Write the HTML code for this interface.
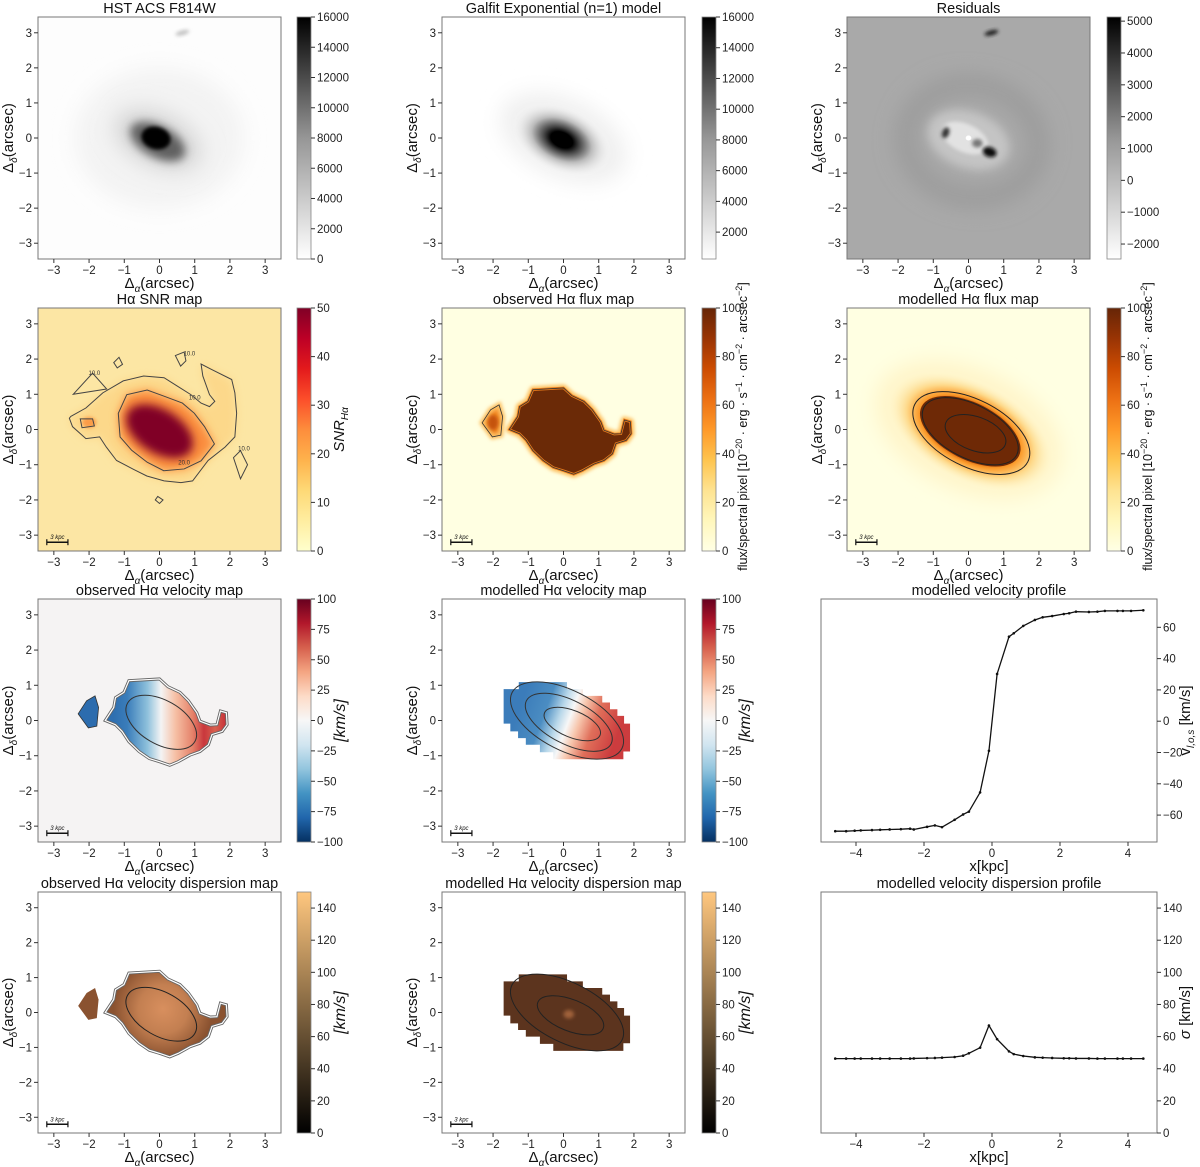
<!DOCTYPE html>
<html><head><meta charset="utf-8">
<style>
html,body{margin:0;padding:0;background:#fff;}
svg{display:block;font-family:"Liberation Sans","DejaVu Sans",sans-serif;}
</style></head>
<body>
<svg id="fig" width="1200" height="1167" viewBox="0 0 1200 1167" xmlns="http://www.w3.org/2000/svg">
<defs>
<filter id="blur2" x="-50%" y="-50%" width="200%" height="200%"><feGaussianBlur stdDeviation="0.05"/></filter>
<filter id="blur5" x="-50%" y="-50%" width="200%" height="200%"><feGaussianBlur stdDeviation="0.13"/></filter>
<filter id="blur10" x="-50%" y="-50%" width="200%" height="200%"><feGaussianBlur stdDeviation="0.3"/></filter>
<linearGradient id="cm-greys" x1="0" y1="1" x2="0" y2="0"><stop offset="0" stop-color="#ffffff"/><stop offset="0.5" stop-color="#969696"/><stop offset="1" stop-color="#000000"/></linearGradient>
<linearGradient id="cm-ylorrd" x1="0" y1="1" x2="0" y2="0"><stop offset="0" stop-color="#ffffcc"/><stop offset="0.125" stop-color="#ffeda0"/><stop offset="0.25" stop-color="#fed976"/><stop offset="0.375" stop-color="#feb24c"/><stop offset="0.5" stop-color="#fd8d3c"/><stop offset="0.625" stop-color="#fc4e2a"/><stop offset="0.75" stop-color="#e31a1c"/><stop offset="0.875" stop-color="#bd0026"/><stop offset="1" stop-color="#800026"/></linearGradient>
<linearGradient id="cm-ylorbr" x1="0" y1="1" x2="0" y2="0"><stop offset="0" stop-color="#ffffe5"/><stop offset="0.125" stop-color="#fff7bc"/><stop offset="0.25" stop-color="#fee391"/><stop offset="0.375" stop-color="#fec44f"/><stop offset="0.5" stop-color="#fe9929"/><stop offset="0.625" stop-color="#ec7014"/><stop offset="0.75" stop-color="#cc4c02"/><stop offset="0.875" stop-color="#993404"/><stop offset="1" stop-color="#662506"/></linearGradient>
<linearGradient id="cm-rdbu" x1="0" y1="1" x2="0" y2="0"><stop offset="0" stop-color="#053061"/><stop offset="0.1" stop-color="#2166ac"/><stop offset="0.2" stop-color="#4393c3"/><stop offset="0.3" stop-color="#92c5de"/><stop offset="0.4" stop-color="#d1e5f0"/><stop offset="0.5" stop-color="#f7f7f7"/><stop offset="0.6" stop-color="#fddbc7"/><stop offset="0.7" stop-color="#f4a582"/><stop offset="0.8" stop-color="#d6604d"/><stop offset="0.9" stop-color="#b2182b"/><stop offset="1" stop-color="#67001f"/></linearGradient>
<linearGradient id="cm-copper" x1="0" y1="1" x2="0" y2="0"><stop offset="0" stop-color="#000000"/><stop offset="1" stop-color="#ffc77f"/></linearGradient>
<linearGradient id="vel-obs" gradientUnits="userSpaceOnUse" x1="-1.3" y1="0" x2="1.9" y2="0"><stop offset="0" stop-color="#2f6fb0"/><stop offset="0.12" stop-color="#3a7dba"/><stop offset="0.3" stop-color="#8fc1dc"/><stop offset="0.42" stop-color="#f4f4f4"/><stop offset="0.55" stop-color="#f6bfa4"/><stop offset="0.7" stop-color="#e5826a"/><stop offset="0.8" stop-color="#c9373c"/><stop offset="0.9" stop-color="#d8604f"/><stop offset="1" stop-color="#c63038"/></linearGradient>
<linearGradient id="vel-mod" gradientUnits="userSpaceOnUse" x1="-1.2" y1="0.5" x2="1.5" y2="-0.5"><stop offset="0" stop-color="#3b7cba"/><stop offset="0.25" stop-color="#4b8dc2"/><stop offset="0.4" stop-color="#b9d8ea"/><stop offset="0.5" stop-color="#f7f7f7"/><stop offset="0.6" stop-color="#f7c6ad"/><stop offset="0.75" stop-color="#e06f5a"/><stop offset="1" stop-color="#cc3c3e"/></linearGradient>
<radialGradient id="disp-obs" gradientUnits="userSpaceOnUse" cx="0.1" cy="0.1" r="1.4"><stop offset="0" stop-color="#d88f5e"/><stop offset="0.5" stop-color="#c37f51"/><stop offset="1" stop-color="#8a5230"/></radialGradient>
<radialGradient id="flux-mod" gradientUnits="objectBoundingBox" cx="0.5" cy="0.5" r="0.5"><stop offset="0" stop-color="#6e2906"/><stop offset="0.42" stop-color="#6e2906"/><stop offset="0.5" stop-color="#c5530a"/><stop offset="0.6" stop-color="#fb9a2a"/><stop offset="0.75" stop-color="#fed98a"/><stop offset="1" stop-color="#ffffe0" stop-opacity="0"/></radialGradient>
<radialGradient id="gal-core" gradientUnits="objectBoundingBox" cx="0.5" cy="0.5" r="0.5"><stop offset="0" stop-color="#000"/><stop offset="0.22" stop-color="#000"/><stop offset="0.35" stop-color="#444"/><stop offset="0.6" stop-color="#bbb"/><stop offset="1" stop-color="#fff" stop-opacity="0"/></radialGradient>
</defs>
</svg>
<script>
// ---------- profile data ----------
const velX = [-4.61,-4.29,-4.04,-3.86,-3.53,-3.29,-3.01,-2.68,-2.41,-2.30,-1.91,-1.68,-1.47,-1.10,-0.85,-0.68,-0.35,-0.09,0.15,0.50,0.64,0.92,1.26,1.49,1.77,2.11,2.27,2.47,2.85,3.10,3.32,3.69,3.85,4.09,4.45];
const velV = [-70.3,-70.3,-70.0,-69.8,-69.6,-69.4,-69.2,-69.0,-68.7,-69.2,-67.5,-66.6,-67.7,-63.0,-59.6,-57.8,-45.5,-18.9,30.2,54.0,56.2,60.9,64.7,66.4,67.2,68.5,69.0,70.0,69.8,70.0,70.5,70.5,70.5,70.5,70.9];
const dispX = [-4.61,-4.29,-4.04,-3.86,-3.53,-3.29,-3.01,-2.68,-2.41,-2.30,-1.91,-1.68,-1.47,-1.10,-0.85,-0.68,-0.35,-0.09,0.15,0.50,0.64,0.92,1.26,1.49,1.77,2.11,2.27,2.47,2.85,3.10,3.32,3.69,3.85,4.09,4.45];
const dispV = [46.3,46.3,46.3,46.3,46.3,46.3,46.3,46.3,46.3,46.4,46.6,46.7,46.9,47.3,48.1,49.6,53.1,66.9,58.4,50.8,49.1,47.9,47.1,46.9,46.7,46.5,46.5,46.4,46.4,46.3,46.3,46.3,46.3,46.3,46.3];
const velTicksY = [-60,-40,-20,0,20,40,60];
const dispTicksY = [0,20,40,60,80,100,120,140];
const profTicksX = [-4,-2,0,2,4];
const imgTicks = [-3,-2,-1,0,1,2,3];

const NS = "http://www.w3.org/2000/svg";
const svg = document.getElementById('fig');
function mk(tag, attrs, parent){const e=document.createElementNS(NS,tag);for(const k in attrs)e.setAttribute(k,attrs[k]);(parent||svg).appendChild(e);return e;}
function txt(s, attrs, parent){const e=mk('text',attrs,parent);e.textContent=s;return e;}
function rich(parts, attrs, parent){const e=mk('text',attrs,parent);parts.forEach(p=>{const t=mk('tspan',p[1]||{},e);t.textContent=p[0];});return e;}

const cols=[{x0:38,x1:281,cb:297},{x0:442,x1:685,cb:702},{x0:847,x1:1090,cb:1107}];
const rows=[{y0:17,y1:259},{y0:308,y1:551},{y0:599,y1:842},{y0:892,y1:1133}];
const R=3.45;
let clipN=0;

function imagePanel(ci,ri,name,title,bg){
  const c=cols[ci],r=rows[ri];
  const g=mk('g',{});
  
  
  const id='clip'+(clipN++);
  const cp=mk('clipPath',{id:id},g);mk('rect',{x:c.x0,y:r.y0,width:c.x1-c.x0,height:r.y1-r.y0},cp);
  const kx=(c.x1-c.x0)/(2*R),ky=(r.y1-r.y0)/(2*R);
  const outer=mk('g',{'clip-path':'url(#'+id+')'},g);
  mk('rect',{x:c.x0,y:r.y0,width:c.x1-c.x0,height:r.y1-r.y0,fill:bg},outer);
  const inner=mk('g',{transform:`translate(${c.x0+R*kx},${r.y1-R*ky}) scale(${kx},${-ky})`},outer);
  
  
  const frame=mk('rect',{x:c.x0,y:r.y0,width:c.x1-c.x0,height:r.y1-r.y0,fill:'none',stroke:'#777','stroke-width':1},g);
  
  
  const sx=v=>c.x0+(v+R)*kx, sy=v=>r.y1-(v+R)*ky;
  imgTicks.forEach(t=>{
    mk('line',{x1:sx(t),x2:sx(t),y1:r.y1,y2:r.y1+4,stroke:'#333'},g);
    txt((t<0?'\u2212':'')+Math.abs(t),{x:sx(t),y:r.y1+15,'font-size':11.5,'text-anchor':'middle',fill:'#222'},g);
    mk('line',{x1:c.x0-4,x2:c.x0,y1:sy(t),y2:sy(t),stroke:'#333'},g);
    txt((t<0?'\u2212':'')+Math.abs(t),{x:c.x0-6,y:sy(t)+4,'font-size':11.5,'text-anchor':'end',fill:'#222'},g);
  });
  const tt=txt(title,{x:(c.x0+c.x1)/2,y:r.y0-4,'font-size':14.5,'text-anchor':'middle',fill:'#111'},g);
  
  
  const xl=rich([['\u0394'],['\u03b1',{'font-size':10,dy:4,'font-style':'italic'}],['(arcsec)',{dy:-4}]],{x:(c.x0+c.x1)/2,y:r.y1+29,'font-size':15,'text-anchor':'middle',fill:'#111'},g);
  
  
  const cx=c.x0-25,cy=(r.y0+r.y1)/2;
  const yl=rich([['\u0394'],['\u03b4',{'font-size':10,dy:4,'font-style':'italic'}],['(arcsec)',{dy:-4}]],{x:cx,y:cy,'font-size':15,'text-anchor':'middle',fill:'#111',transform:`rotate(-90 ${cx} ${cy})`},g);
  
  
  return {g,inner,c,r,sx,sy};
}
function colorbar(P,grad,vmin,vmax,ticks){
  const {c,r}=P;
  const g=mk('g',{},P.g);
  
  
  mk('rect',{x:c.cb,y:r.y0,width:14,height:r.y1-r.y0,fill:'url(#'+grad+')',stroke:'#888','stroke-width':0.8},g);
  const s=v=>r.y1-(v-vmin)/(vmax-vmin)*(r.y1-r.y0);
  ticks.forEach(t=>{
    mk('line',{x1:c.cb+14,x2:c.cb+18,y1:s(t),y2:s(t),stroke:'#333'},g);
    txt((t<0?'\u2212':'')+Math.abs(t),{x:c.cb+20,y:s(t)+4,'font-size':11.5,fill:'#222'},g);
  });
  return g;
}
function scaleBar(P){
  const g=mk('g',{},P.g);
  
  
  const x1=P.sx(-3.2),x2=P.sx(-2.6),y=P.sy(-3.2);
  mk('line',{x1,x2,y1:y,y2:y,stroke:'#111','stroke-width':1.5},g);
  mk('line',{x1,x2:x1,y1:y-3,y2:y+3,stroke:'#111','stroke-width':1.2},g);
  mk('line',{x1:x2,x2,y1:y-3,y2:y+3,stroke:'#111','stroke-width':1.2},g);
  txt('3 kpc',{x:(x1+x2)/2,y:y-3,'font-size':6,'font-style':'italic','text-anchor':'middle',fill:'#111'},g);
}
function cbLabelFlux(P){
  const x=P.c.cb+45,y=(P.r.y0+P.r.y1)/2-3;
  const t=rich([['flux/spectral pixel [10'],['\u221220',{'font-size':9,dy:-5}],[' \u00b7 erg \u00b7 s',{dy:5}],['\u22121',{'font-size':9,dy:-5}],[' \u00b7 cm',{dy:5}],['\u22122',{'font-size':9,dy:-5}],[' \u00b7 arcsec',{dy:5}],['\u22122',{'font-size':9,dy:-5}],[']',{dy:5}]],{x,y,'font-size':12.5,'text-anchor':'middle',fill:'#111',transform:`rotate(-90 ${x} ${y})`},P.g);
  
  
}
function cbLabelKms(P){
  const x=P.c.cb+48,y=(P.r.y0+P.r.y1)/2;
  const t=txt('[km/s]',{x,y,'font-size':16,'font-style':'italic','text-anchor':'middle',fill:'#111',transform:`rotate(-90 ${x} ${y})`},P.g);
  
  
}
const pts=a=>a.map(p=>p.join(',')).join(' ');
const ell=(par,cx,cy,rx,ry,rot,attrs)=>mk('ellipse',Object.assign({cx,cy,rx,ry,transform:`rotate(${rot} ${cx} ${cy})`},attrs),par);

// shapes (arcsec)
const obsMain=[[-1.54,0],[-1.30,0.37],[-1.25,0.65],[-1.01,0.80],[-0.87,1.13],[0,1.18],[0.24,0.96],[0.58,0.80],[0.82,0.56],[1.06,0.22],[1.15,-0.02],[1.44,-0.13],[1.63,-0.12],[1.73,0.27],[1.90,0.22],[1.92,-0.12],[1.78,-0.31],[1.49,-0.40],[1.39,-0.69],[1.15,-0.88],[0.87,-0.98],[0.53,-1.17],[0.29,-1.27],[0,-1.17],[-0.29,-1.08],[-0.58,-0.88],[-0.87,-0.60],[-1.06,-0.31],[-1.25,-0.12]];
const obsSmall=[[-2.31,0.19],[-2.07,0.56],[-1.83,0.70],[-1.73,0.37],[-1.78,-0.16],[-2.02,-0.21]];
const modRegion=[[-1.70,0.89],[-1.27,0.89],[-1.27,1.09],[0.10,1.09],[0.10,0.89],[0.55,0.89],[0.55,0.70],[1.10,0.70],[1.10,0.51],[1.32,0.51],[1.32,0.32],[1.53,0.32],[1.53,0.13],[1.72,0.13],[1.72,-0.09],[1.89,-0.09],[1.89,-0.88],[1.70,-0.88],[1.70,-1.10],[-0.29,-1.10],[-0.29,-0.90],[-0.67,-0.90],[-0.67,-0.69],[-1.07,-0.69],[-1.07,-0.50],[-1.29,-0.50],[-1.29,-0.31],[-1.51,-0.31],[-1.51,-0.09],[-1.70,-0.09]];
const snr20=[[-1.17,0.46],[-0.93,0.99],[-0.35,1.12],[0.12,0.95],[0.65,0.75],[0.99,0.46],[1.28,0.08],[1.56,-0.41],[1.18,-0.89],[0.70,-1.12],[0.12,-1.17],[-0.35,-0.93],[-0.79,-0.59],[-1.12,-0.21]];
const snr10=[[-2.52,0.37],[-2.09,0.61],[-1.61,1.04],[-1.03,1.38],[-0.45,1.52],[0.13,1.47],[0.51,1.23],[0.89,0.99],[1.18,0.75],[1.42,0.65],[1.57,0.80],[1.42,0.99],[1.23,1.52],[1.18,1.86],[1.47,1.71],[2.05,1.42],[2.14,1.04],[2.19,0.46],[2.14,-0.21],[1.86,-0.50],[1.38,-0.88],[0.94,-1.46],[0.61,-1.51],[0.13,-1.46],[-0.36,-1.32],[-0.74,-1.13],[-1.22,-0.88],[-1.51,-0.50],[-1.70,-0.21],[-2.09,-0.26],[-2.47,0.08],[-2.56,0.32]];
const ns={'vector-effect':'non-scaling-stroke'};

// ---------- Row 1 ----------
let P=imagePanel(0,0,'hst-f814w-panel','HST ACS F814W','#fdfdfd');
ell(P.inner,0,0,2.4,2.0,0,{fill:'#f3f3f3',filter:'url(#blur10)'});
ell(P.inner,-0.05,-0.05,1.3,0.75,-25,{fill:'#d4d4d4',filter:'url(#blur10)'});
ell(P.inner,-0.05,-0.1,0.85,0.45,-28,{fill:'#606060',filter:'url(#blur5)'});
ell(P.inner,-0.1,0,0.42,0.32,-15,{fill:'#000',filter:'url(#blur2)'});
ell(P.inner,0.65,3.0,0.2,0.07,15,{fill:'#c4c4c4',filter:'url(#blur2)'});
colorbar(P,'cm-greys',0,16000,[0,2000,4000,6000,8000,10000,12000,14000,16000]);

P=imagePanel(1,0,'galfit-model-panel','Galfit Exponential (n=1) model','#ffffff');
ell(P.inner,0,0,1.9,1.1,-25,{fill:'#efefef',filter:'url(#blur10)'});
ell(P.inner,-0.05,-0.05,1.5,0.95,-25,{fill:'url(#gal-core)'});
colorbar(P,'cm-greys',250,16000,[2000,4000,6000,8000,10000,12000,14000,16000]);

P=imagePanel(2,0,'residuals-panel','Residuals','#a9a9a9');
ell(P.inner,0.1,-0.1,1.9,1.6,-10,{fill:'none',stroke:'#999','stroke-width':0.5,filter:'url(#blur10)'});
ell(P.inner,0,-0.05,1.2,0.8,-20,{fill:'#c4c4c4',filter:'url(#blur5)'});
ell(P.inner,-0.1,0,0.7,0.4,-25,{fill:'#e2e2e2',filter:'url(#blur2)'});
ell(P.inner,0.6,-0.4,0.2,0.14,-20,{fill:'#111',filter:'url(#blur2)'});
ell(P.inner,-0.65,0.15,0.1,0.16,-20,{fill:'#333',filter:'url(#blur2)'});
ell(P.inner,0.25,-0.15,0.15,0.12,0,{fill:'#777',filter:'url(#blur2)'});
ell(P.inner,0.0,0.0,0.08,0.07,0,{fill:'#fff'});
ell(P.inner,0.65,3.0,0.2,0.07,15,{fill:'#222',filter:'url(#blur2)'});
colorbar(P,'cm-greys',-2470,5130,[-2000,-1000,0,1000,2000,3000,4000,5000]);

// ---------- Row 2 ----------
P=imagePanel(0,1,'snr-map-panel','H\u03b1 SNR map','#fce6a4');
mk('polygon',{points:pts(snr10),fill:'#fcd88a',filter:'url(#blur5)'},P.inner);
ell(P.inner,-2.0,0.2,0.2,0.15,0,{fill:'#fb9b46',filter:'url(#blur2)'});
mk('polygon',{points:pts(snr20),fill:'#fb8c3c',filter:'url(#blur5)'},P.inner);
ell(P.inner,0.0,-0.05,1.05,0.62,-32,{fill:'#800026',filter:'url(#blur5)'});
mk('polygon',{points:pts(snr10),fill:'none',stroke:'#444','stroke-width':1,...ns},P.inner);
mk('polygon',{points:pts(snr20),fill:'none',stroke:'#444','stroke-width':1,...ns},P.inner);
mk('polygon',{points:pts([[-2.25,0.3],[-1.9,0.3],[-1.85,0.1],[-2.2,0.05]]),fill:'none',stroke:'#444','stroke-width':1,...ns},P.inner);
mk('polygon',{points:pts([[-2.45,1.0],[-1.9,1.6],[-1.5,1.15]]),fill:'none',stroke:'#444','stroke-width':1,...ns},P.inner);
mk('polygon',{points:pts([[-1.3,1.9],[-1.15,2.05],[-1.05,1.85],[-1.2,1.75]]),fill:'none',stroke:'#444','stroke-width':1,...ns},P.inner);
mk('polygon',{points:pts([[0.45,2.1],[0.7,2.2],[0.75,1.95],[0.6,1.8]]),fill:'none',stroke:'#444','stroke-width':1,...ns},P.inner);
mk('polygon',{points:pts([[2.1,-0.8],[2.3,-0.6],[2.5,-1.0],[2.3,-1.4]]),fill:'none',stroke:'#444','stroke-width':1,...ns},P.inner);
mk('polygon',{points:pts([[-0.05,-1.9],[0.1,-2.0],[0,-2.1],[-0.12,-2.0]]),fill:'none',stroke:'#444','stroke-width':1,...ns},P.inner);
colorbar(P,'cm-ylorrd',0,50,[0,10,20,30,40,50]);
scaleBar(P);
[['10.0',-1.85,1.55],['10.0',0.85,2.1],['10.0',1.0,0.85],['20.0',0.7,-1.0],['10.0',2.4,-0.6]].forEach(l=>txt(l[0],{x:P.sx(l[1]),y:P.sy(l[2]),'font-size':6,'text-anchor':'middle',fill:'#333'},P.g));
{const x=P.c.cb+47,y=(P.r.y0+P.r.y1)/2;const t=rich([['SNR',{'font-style':'italic'}],['H\u03b1',{'font-size':10,dy:4,'font-style':'italic'}]],{x,y,'font-size':15,'text-anchor':'middle',fill:'#111',transform:`rotate(-90 ${x} ${y})`},P.g);}

P=imagePanel(1,1,'observed-flux-map-panel','observed H\u03b1 flux map','#ffffe2');
mk('polygon',{points:pts(obsMain),fill:'#fdb045',stroke:'#fdc060','stroke-width':7,'stroke-linejoin':'round',filter:'url(#blur2)',...ns},P.inner);
mk('polygon',{points:pts(obsSmall),fill:'#f38a22',stroke:'#fdc060','stroke-width':5,filter:'url(#blur2)',...ns},P.inner);
mk('polygon',{points:pts(obsMain),fill:'#6b2a07',stroke:'#e87a1a','stroke-width':2.5,...ns},P.inner);
mk('polygon',{points:pts(obsMain),fill:'none',stroke:'#333','stroke-width':0.8,...ns},P.inner);
ell(P.inner,-2.0,0.2,0.15,0.22,0,{fill:'#c5530a',filter:'url(#blur2)'});
mk('polygon',{points:pts(obsSmall),fill:'none',stroke:'#333','stroke-width':0.8,...ns},P.inner);
colorbar(P,'cm-ylorbr',0,100,[0,20,40,60,80,100]);
scaleBar(P);
cbLabelFlux(P);

P=imagePanel(2,1,'modelled-flux-map-panel','modelled  H\u03b1 flux map','#ffffe2');
ell(P.inner,0.0,0.0,2.8,1.7,-25,{fill:'#fff4c8',filter:'url(#blur10)'});
ell(P.inner,0.05,-0.05,2.6,1.45,-27,{fill:'url(#flux-mod)'});
ell(P.inner,0.05,-0.05,1.55,0.8,-27,{fill:'#6e2906'});
ell(P.inner,0.08,-0.1,1.8,0.95,-27,{fill:'none',stroke:'#222','stroke-width':1,...ns});
ell(P.inner,0.05,-0.05,1.48,0.76,-27,{fill:'none',stroke:'#222','stroke-width':1,...ns});
ell(P.inner,0.2,-0.12,0.9,0.48,-20,{fill:'none',stroke:'#222','stroke-width':1,...ns});
colorbar(P,'cm-ylorbr',0,100,[0,20,40,60,80,100]);
scaleBar(P);
cbLabelFlux(P);

// ---------- Row 3 ----------
P=imagePanel(0,2,'observed-velocity-map-panel','observed H\u03b1 velocity map','#f5f3f3');
mk('polygon',{points:pts(obsMain),fill:'url(#vel-obs)'},P.inner);
mk('polygon',{points:pts(obsSmall),fill:'#2c6cae'},P.inner);
mk('polygon',{points:pts(obsMain),fill:'none',stroke:'#666','stroke-width':3,...ns},P.inner);
mk('polygon',{points:pts(obsMain),fill:'none',stroke:'#fff','stroke-width':1.2,...ns},P.inner);
mk('polygon',{points:pts(obsSmall),fill:'none',stroke:'#333','stroke-width':0.8,...ns},P.inner);
ell(P.inner,0.05,-0.05,1.1,0.62,-30,{fill:'none',stroke:'#333','stroke-width':1,...ns});
colorbar(P,'cm-rdbu',-100,100,[-100,-75,-50,-25,0,25,50,75,100]);
scaleBar(P);cbLabelKms(P);

P=imagePanel(1,2,'modelled-velocity-map-panel','modelled  H\u03b1 velocity map','#ffffff');
mk('polygon',{points:pts(modRegion),fill:'url(#vel-mod)'},P.inner);
ell(P.inner,0.1,0.0,1.75,0.85,-27,{fill:'none',stroke:'#333','stroke-width':1,...ns});
ell(P.inner,0.15,-0.05,1.35,0.62,-27,{fill:'none',stroke:'#333','stroke-width':1,...ns});
ell(P.inner,0.25,-0.1,0.85,0.38,-22,{fill:'none',stroke:'#333','stroke-width':1,...ns});
colorbar(P,'cm-rdbu',-100,100,[-100,-75,-50,-25,0,25,50,75,100]);
scaleBar(P);cbLabelKms(P);

// ---------- Row 4 ----------
P=imagePanel(0,3,'observed-dispersion-map-panel','observed H\u03b1 velocity dispersion map','#ffffff');
mk('polygon',{points:pts(obsMain),fill:'url(#disp-obs)'},P.inner);
mk('polygon',{points:pts(obsSmall),fill:'#8a5230'},P.inner);
mk('polygon',{points:pts(obsMain),fill:'none',stroke:'#666','stroke-width':3,...ns},P.inner);
mk('polygon',{points:pts(obsMain),fill:'none',stroke:'#fff','stroke-width':1.2,...ns},P.inner);
ell(P.inner,0.05,-0.05,1.1,0.62,-30,{fill:'none',stroke:'#222','stroke-width':1,...ns});
colorbar(P,'cm-copper',0,150,[0,20,40,60,80,100,120,140]);
scaleBar(P);cbLabelKms(P);

P=imagePanel(1,3,'modelled-dispersion-map-panel','modelled  H\u03b1 velocity dispersion map','#ffffff');
mk('polygon',{points:pts(modRegion),fill:'#5c341e'},P.inner);
ell(P.inner,0.15,-0.05,0.15,0.12,0,{fill:'#a0623a',filter:'url(#blur2)'});
ell(P.inner,0.1,0.0,1.75,0.85,-27,{fill:'none',stroke:'#222','stroke-width':1,...ns});
ell(P.inner,0.2,-0.08,1.0,0.45,-22,{fill:'none',stroke:'#222','stroke-width':1,...ns});
colorbar(P,'cm-copper',0,150,[0,20,40,60,80,100,120,140]);
scaleBar(P);cbLabelKms(P);

// ---------- profiles ----------
function profile(ri,name,title,xs,ys,ymin,ymax,yticks,ylabelParts){
  const x0=821,x1=1157,r=rows[ri];
  const g=mk('g',{});
  
  
  const sx=v=>992+v*34, sy=v=>r.y1-(v-ymin)/(ymax-ymin)*(r.y1-r.y0);
  mk('rect',{x:x0,y:r.y0,width:x1-x0,height:r.y1-r.y0,fill:'#fff',stroke:'#777'},g);
  profTicksX.forEach(t=>{mk('line',{x1:sx(t),x2:sx(t),y1:r.y1,y2:r.y1+4,stroke:'#333'},g);txt((t<0?'\u2212':'')+Math.abs(t),{x:sx(t),y:r.y1+15,'font-size':11.5,'text-anchor':'middle',fill:'#222'},g);});
  yticks.forEach(t=>{mk('line',{x1:x1,x2:x1+4,y1:sy(t),y2:sy(t),stroke:'#333'},g);txt((t<0?'\u2212':'')+Math.abs(t),{x:x1+6,y:sy(t)+4,'font-size':11.5,fill:'#222'},g);});
  const line=mk('polyline',{points:xs.map((x,i)=>sx(x)+','+sy(ys[i])).join(' '),fill:'none',stroke:'#111','stroke-width':1.3},g);
  
  
  xs.forEach((x,i)=>{const d=mk('circle',{cx:sx(x),cy:sy(ys[i]),r:1.3,fill:'#111'},g);});
  const tt=txt(title,{x:(x0+x1)/2,y:r.y0-4,'font-size':14.5,'text-anchor':'middle',fill:'#111'},g);
  
  const xl=txt('x[kpc]',{x:(x0+x1)/2,y:r.y1+29,'font-size':15,'text-anchor':'middle',fill:'#111'},g);
  
  const lx=1190,ly=(r.y0+r.y1)/2;
  const yl=rich(ylabelParts,{x:lx,y:ly,'font-size':15,'text-anchor':'middle',fill:'#111',transform:`rotate(-90 ${lx} ${ly})`},g);
  
}
profile(2,'velocity-profile-panel','modelled  velocity profile',velX,velV,-77.2,78.1,velTicksY,[['v'],['l,o,s',{'font-size':10,dy:4,'font-style':'italic'}],[' [km/s]',{dy:-4}]]);
profile(3,'dispersion-profile-panel','modelled  velocity dispersion profile',dispX,dispV,0,150,dispTicksY,[['\u03c3',{'font-style':'italic'}],[' [km/s]']]);
</script>
</body></html>
